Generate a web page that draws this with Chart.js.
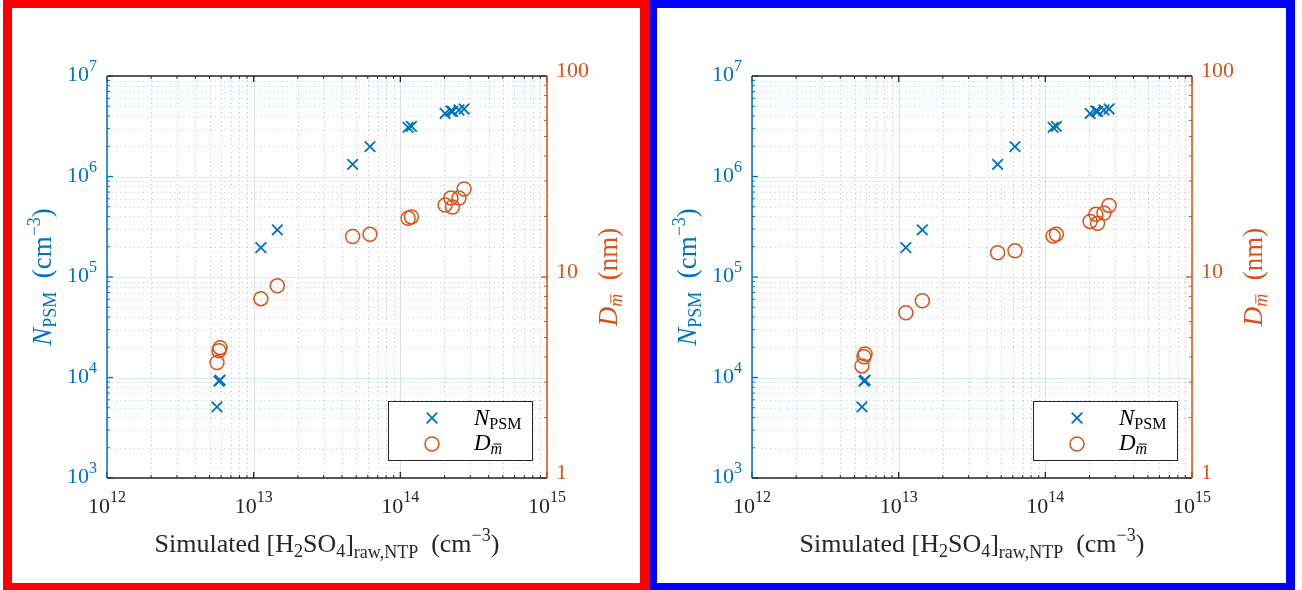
<!DOCTYPE html>
<html>
<head>
<meta charset="utf-8">
<script src="https://cdn.jsdelivr.net/npm/chart.js@4.4.1/dist/chart.umd.min.js"></script>
<style>
    html, body { margin: 0; padding: 0; background: #fff; }
    body { width: 1302px; height: 590px; position: relative; overflow: hidden; }
    canvas { position: absolute; top: 0; }
    #leftChart { left: 0; }
    #rightChart { left: 650px; }
    .frame { position: absolute; top: 0; height: 590px; box-sizing: border-box; pointer-events: none; }
    #frameLeft { left: 3px; width: 647px; border-style: solid; border-color: #ff0000; border-width: 8px 10px 7px 9px; }
    #frameRight { left: 650px; width: 645px; border-style: solid; border-color: #0000ff; border-width: 8px 9px 7px 7px; }
</style>
</head>
<body>
<canvas id="leftChart" width="650" height="590"></canvas>
<canvas id="rightChart" width="650" height="590"></canvas>
<div class="frame" id="frameLeft"></div>
<div class="frame" id="frameRight"></div>
<script>
// simulated H2SO4 concentration (cm^-3), shared by both panels
const h2so4Conc = [5.62e12, 5.8e12, 5.9e12, 1.12e13, 1.45e13, 4.73e13, 6.21e13, 1.13e14, 1.19e14, 2.02e14, 2.21e14, 2.27e14, 2.51e14, 2.72e14];
// N_PSM (cm^-3), left axis
const nPsm = [5.1e3, 9.2e3, 9.4e3, 1.96e5, 2.94e5, 1.32e6, 1.98e6, 3.08e6, 3.15e6, 4.24e6, 4.49e6, 4.44e6, 4.59e6, 4.70e6];
// D_m (nm), right axis
const dMeanLeft = [3.75, 4.3, 4.45, 7.8, 9.05, 15.9, 16.3, 19.6, 19.9, 22.8, 24.7, 22.3, 24.7, 27.4];
const dMeanRight = [3.61, 4.01, 4.14, 6.64, 7.62, 13.2, 13.5, 16.0, 16.3, 18.9, 20.5, 18.5, 20.8, 22.7];

// ticks
const xTickExps = [12, 13, 14, 15];
const nTickExps = [3, 4, 5, 6, 7];
const dTickValues = [1, 10, 100];
const minorSteps = [2, 3, 4, 5, 6, 7, 8, 9];

const BLUE = '#0072BD';
const ORANGE = '#D95319';
const AXIS = '#262626';
const SERIF = '"Liberation Serif", "DejaVu Serif", serif';

function fontOf(p) {
    return (p.italic ? 'italic ' : '') + p.size + 'px ' + SERIF;
}

// draw text made of several pieces (sub/superscripts)
function drawRich(ctx, parts, x, y, align, color) {
    let total = 0;
    parts.forEach(p => {
        ctx.font = fontOf(p);
        p.w = ctx.measureText(p.t).width;
        total += p.w;
    });
    let cx = x;
    if (align === 'center') cx = x - total / 2;
    if (align === 'right') cx = x - total;
    ctx.fillStyle = color;
    ctx.strokeStyle = color;
    ctx.textAlign = 'left';
    ctx.textBaseline = 'alphabetic';
    parts.forEach(p => {
        ctx.font = fontOf(p);
        const by = y + (p.dy || 0);
        ctx.fillText(p.t, cx, by);
        if (p.bar) {
            ctx.lineWidth = 1;
            ctx.beginPath();
            ctx.moveTo(cx + p.w * 0.25, by - p.size * 0.62);
            ctx.lineTo(cx + p.w * 0.95, by - p.size * 0.62);
            ctx.stroke();
        }
        cx += p.w;
    });
}

function decadeMinors(exps) {
    const out = [];
    for (let i = 0; i < exps.length - 1; i++) {
        minorSteps.forEach(k => out.push(k * Math.pow(10, exps[i])));
    }
    return out;
}

function minorsBetween(values) {
    const out = [];
    for (let i = 0; i < values.length - 1; i++) {
        minorSteps.forEach(k => out.push(k * values[i]));
    }
    return out;
}

function seg(ctx, x1, y1, x2, y2) {
    ctx.beginPath();
    ctx.moveTo(x1, y1);
    ctx.lineTo(x2, y2);
    ctx.stroke();
}

const matlabAxes = {
    id: 'matlabAxes',
    beforeDatasetsDraw(chart) {
        const { ctx, chartArea: a } = chart;
        const { x, y } = chart.scales;
        ctx.save();
        ctx.lineWidth = 1;

        // minor grid, dotted
        ctx.setLineDash([1, 3.5]);
        ctx.strokeStyle = 'rgba(38,38,38,0.3)';
        decadeMinors(xTickExps).forEach(v => {
            const px = Math.round(x.getPixelForValue(v)) + 0.5;
            seg(ctx, px, a.top, px, a.bottom);
        });
        ctx.strokeStyle = 'rgba(0,114,189,0.3)';
        decadeMinors(nTickExps).forEach(v => {
            const py = Math.round(y.getPixelForValue(v)) + 0.5;
            seg(ctx, a.left, py, a.right, py);
        });

        // major grid
        ctx.setLineDash([]);
        ctx.strokeStyle = 'rgba(38,38,38,0.14)';
        xTickExps.forEach(e => {
            const px = Math.round(x.getPixelForValue(Math.pow(10, e))) + 0.5;
            seg(ctx, px, a.top, px, a.bottom);
        });
        ctx.strokeStyle = 'rgba(0,114,189,0.14)';
        nTickExps.forEach(e => {
            const py = Math.round(y.getPixelForValue(Math.pow(10, e))) + 0.5;
            seg(ctx, a.left, py, a.right, py);
        });
        ctx.restore();
    },
    afterDatasetsDraw(chart) {
        const { ctx, chartArea: a } = chart;
        const { x, y, y2 } = chart.scales;
        const majorLen = 6, minorLen = 3;
        ctx.save();
        ctx.lineWidth = 1.3;

        // x ticks, top and bottom
        ctx.strokeStyle = AXIS;
        xTickExps.forEach(e => {
            const px = x.getPixelForValue(Math.pow(10, e));
            seg(ctx, px, a.bottom, px, a.bottom - majorLen);
            seg(ctx, px, a.top, px, a.top + majorLen);
        });
        ctx.lineWidth = 1;
        decadeMinors(xTickExps).forEach(v => {
            const px = x.getPixelForValue(v);
            seg(ctx, px, a.bottom, px, a.bottom - minorLen);
            seg(ctx, px, a.top, px, a.top + minorLen);
        });

        // left ticks
        ctx.strokeStyle = BLUE;
        ctx.lineWidth = 1.3;
        nTickExps.forEach(e => {
            const py = y.getPixelForValue(Math.pow(10, e));
            seg(ctx, a.left, py, a.left + majorLen, py);
        });
        ctx.lineWidth = 1;
        decadeMinors(nTickExps).forEach(v => {
            const py = y.getPixelForValue(v);
            seg(ctx, a.left, py, a.left + minorLen, py);
        });

        // right ticks
        ctx.strokeStyle = ORANGE;
        ctx.lineWidth = 1.3;
        dTickValues.forEach(v => {
            const py = y2.getPixelForValue(v);
            seg(ctx, a.right, py, a.right - majorLen, py);
        });
        ctx.lineWidth = 1;
        minorsBetween(dTickValues).forEach(v => {
            const py = y2.getPixelForValue(v);
            seg(ctx, a.right, py, a.right - minorLen, py);
        });

        // axis lines
        ctx.lineWidth = 1.5;
        ctx.strokeStyle = AXIS;
        seg(ctx, a.left, a.top, a.right, a.top);
        seg(ctx, a.left, a.bottom, a.right, a.bottom);
        ctx.strokeStyle = BLUE;
        seg(ctx, a.left, a.top, a.left, a.bottom);
        ctx.strokeStyle = ORANGE;
        seg(ctx, a.right, a.top, a.right, a.bottom);

        // tick labels
        xTickExps.forEach(e => {
            const px = x.getPixelForValue(Math.pow(10, e));
            drawRich(ctx, [{ t: '10', size: 22 }, { t: String(e), size: 16, dy: -11 }], px, a.bottom + 35, 'center', AXIS);
        });
        nTickExps.forEach(e => {
            const py = y.getPixelForValue(Math.pow(10, e));
            drawRich(ctx, [{ t: '10', size: 22 }, { t: String(e), size: 16, dy: -10 }], a.left - 10, py + 5, 'right', BLUE);
        });
        dTickValues.forEach(v => {
            const py = y2.getPixelForValue(v);
            drawRich(ctx, [{ t: String(v), size: 22 }], a.right + 9, py + 1, 'left', ORANGE);
        });

        // axis titles
        const midX = (a.left + a.right) / 2;
        const midY = (a.top + a.bottom) / 2;
        drawRich(ctx, [
            { t: 'Simulated [H', size: 26 },
            { t: '2', size: 18, dy: 5 },
            { t: 'SO', size: 26 },
            { t: '4', size: 18, dy: 5 },
            { t: ']', size: 26 },
            { t: 'raw,NTP', size: 18, dy: 6 },
            { t: '\u2002(cm', size: 26 },
            { t: '\u22123', size: 18, dy: -11 },
            { t: ')', size: 26 }
        ], midX, a.bottom + 74, 'center', AXIS);

        ctx.save();
        ctx.translate(a.left - 56, midY);
        ctx.rotate(-Math.PI / 2);
        drawRich(ctx, [
            { t: 'N', size: 27, italic: true },
            { t: 'PSM', size: 18, dy: 5 },
            { t: '\u2002(cm', size: 27 },
            { t: '\u22123', size: 18, dy: -11 },
            { t: ')', size: 27 }
        ], 0, 0, 'center', BLUE);
        ctx.restore();

        ctx.save();
        ctx.translate(a.right + 70, midY);
        ctx.rotate(-Math.PI / 2);
        drawRich(ctx, [
            { t: 'D', size: 27, italic: true },
            { t: 'm', size: 18, italic: true, dy: 5, bar: true },
            { t: '\u2002(nm)', size: 27 }
        ], 0, 0, 'center', ORANGE);
        ctx.restore();

        // legend box
        const bw = 144, bh = 59;
        const bx = a.right - 15 - bw, by = a.bottom - 18 - bh;
        ctx.fillStyle = '#ffffff';
        ctx.fillRect(bx, by, bw, bh);
        ctx.lineWidth = 1;
        ctx.strokeStyle = AXIS;
        ctx.strokeRect(bx + 0.5, by + 0.5, bw, bh);

        const mx = bx + 44;
        ctx.strokeStyle = BLUE;
        ctx.lineWidth = 1.8;
        const r = 7.5 * Math.SQRT1_2;
        seg(ctx, mx - r, by + 17 - r, mx + r, by + 17 + r);
        seg(ctx, mx - r, by + 17 + r, mx + r, by + 17 - r);
        ctx.strokeStyle = ORANGE;
        ctx.lineWidth = 1.5;
        ctx.beginPath();
        ctx.arc(mx, by + 43, 7, 0, Math.PI * 2);
        ctx.stroke();

        drawRich(ctx, [
            { t: 'N', size: 23, italic: true },
            { t: 'PSM', size: 16, dy: 4 }
        ], bx + 86, by + 24, 'left', '#000000');
        drawRich(ctx, [
            { t: 'D', size: 23, italic: true },
            { t: 'm', size: 16, italic: true, dy: 4, bar: true }
        ], bx + 86, by + 49, 'left', '#000000');

        ctx.restore();
    }
};

function makePanel(canvasId, dValues, padLeft, padRight) {
    const ctx = document.getElementById(canvasId)?.getContext('2d');
    if (!ctx) return;

    new Chart(ctx, {
        type: 'scatter',
        data: {
            datasets: [{
                label: 'N_PSM',
                data: h2so4Conc.map((v, i) => ({ x: v, y: nPsm[i] })),
                yAxisID: 'y',
                pointStyle: 'crossRot',
                pointRadius: 7.5,
                pointBorderWidth: 1.8,
                borderColor: BLUE,
                backgroundColor: BLUE
            }, {
                label: 'D_m',
                data: h2so4Conc.map((v, i) => ({ x: v, y: dValues[i] })),
                yAxisID: 'y2',
                pointStyle: 'circle',
                pointRadius: 7,
                pointBorderWidth: 1.5,
                borderColor: ORANGE,
                backgroundColor: 'rgba(0,0,0,0)'
            }]
        },
        options: {
            responsive: false,
            maintainAspectRatio: false,
            animation: false,
            layout: { padding: { left: padLeft, right: padRight, top: 76, bottom: 112 } },
            plugins: {
                legend: { display: false },
                tooltip: { enabled: false }
            },
            scales: {
                x: { type: 'logarithmic', min: 1e12, max: 1e15, display: false },
                y: { type: 'logarithmic', position: 'left', min: 1e3, max: 1e7, display: false },
                y2: { type: 'logarithmic', position: 'right', min: 1, max: 100, display: false }
            }
        },
        plugins: [matlabAxes]
    });
}

makePanel('leftChart', dMeanLeft, 107, 103);
makePanel('rightChart', dMeanRight, 102, 108);
</script>
</body>
</html>
